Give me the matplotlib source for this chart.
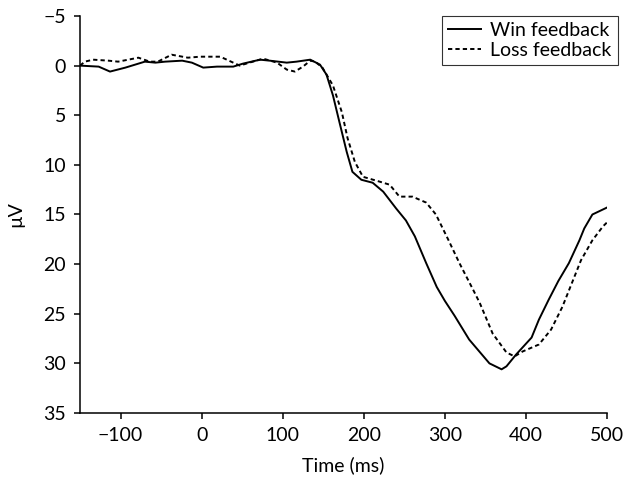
import matplotlib
matplotlib.use("Agg")
import matplotlib.pyplot as plt

# ERP waveforms (time in ms, amplitude in uV)
win_time = [-150, -127, -113, -94, -70, -57, -45, -24, -12, 2, 19, 39, 51, 72, 84,
            105, 117, 134, 146, 154, 162, 170, 179, 186, 197, 211, 224, 240, 252,
            263, 277, 290, 300, 312, 330, 355, 370, 376, 388, 407, 416, 428, 440, 453,
            466, 472, 482, 500]
win_uv = [0.0, 0.1, 0.6, 0.2, -0.4, -0.3, -0.4, -0.5, -0.3, 0.2, 0.1, 0.1, -0.2, -0.6, -0.5,
          -0.3, -0.4, -0.6, -0.1, 0.9, 3.0, 5.7, 8.7, 10.7, 11.5, 11.8, 12.7, 14.4, 15.6,
          17.2, 19.9, 22.3, 23.7, 25.2, 27.6, 30.0, 30.6, 30.3, 29.1, 27.4, 25.6, 23.6, 21.7, 19.9,
          17.6, 16.4, 15.0, 14.3]

loss_time = [-150, -144, -134, -115, -103, -78, -64, -54, -37, -17, -2, 23, 39, 47, 59,
             76, 93, 105, 115, 125, 134, 140, 149, 162, 173, 180, 189, 199, 220, 232,
             244, 260, 277, 289, 304, 318, 335, 343, 359, 376, 386, 396, 416, 431,
             445, 468, 482, 495, 500]
loss_uv = [0.0, -0.4, -0.6, -0.5, -0.4, -0.8, -0.4, -0.4, -1.1, -0.8, -0.9, -0.9, -0.3, 0.0, -0.3,
           -0.7, -0.3, 0.4, 0.6, 0.1, -0.5, -0.4, 0.2, 2.0, 4.7, 7.3, 9.7, 11.2, 11.7, 12.0,
           13.2, 13.2, 13.8, 15.0, 17.5, 19.9, 22.6, 23.9, 27.0, 28.9, 29.3, 28.8, 28.1, 26.6,
           24.3, 19.6, 17.6, 16.2, 15.8]

x_ticks = [-100, 0, 100, 200, 300, 400, 500]
y_ticks = [-5, 0, 5, 10, 15, 20, 25, 30, 35]

plt.rcParams['font.family'] = ['Lato', 'DejaVu Sans']
plt.rcParams['font.size'] = 14

fig = plt.figure(figsize=(6.33, 4.79), dpi=100)
ax = fig.add_axes([0.1264, 0.1378, 0.8325, 0.8288])

ax.plot(win_time, win_uv, color='black', lw=1.4, label='Win feedback')
ax.plot(loss_time, loss_uv, color='black', lw=1.4, ls=(0, (2.2, 1.6)), label='Loss feedback')

ax.set_xlim(-150, 500)
ax.set_ylim(35, -5)  # negative up
ax.set_xticks(x_ticks)
ax.set_xticklabels([str(t).replace('-', '\u2212') for t in x_ticks])
ax.set_yticks(y_ticks)
ax.set_yticklabels([str(t).replace('-', '\u2212') for t in y_ticks])
ax.set_xlabel('Time (ms)', labelpad=9)
ax.set_ylabel('\u00b5V', labelpad=14)

for side in ('top', 'right'):
    ax.spines[side].set_visible(False)
for side in ('left', 'bottom'):
    ax.spines[side].set_linewidth(1.1)
ax.tick_params(direction='out', length=4, width=1.1)
ax.tick_params(axis='x', pad=6)
ax.tick_params(axis='y', pad=6)

leg = ax.legend(loc='upper right', bbox_to_anchor=(1.02, 1.0), frameon=True, fancybox=False,
                handlelength=1.7, handletextpad=0.5, borderpad=0.3, labelspacing=0.15,
                borderaxespad=0.0)
leg.get_frame().set_edgecolor('black')
leg.get_frame().set_linewidth(0.8)

fig.savefig('out.png', dpi=100)
